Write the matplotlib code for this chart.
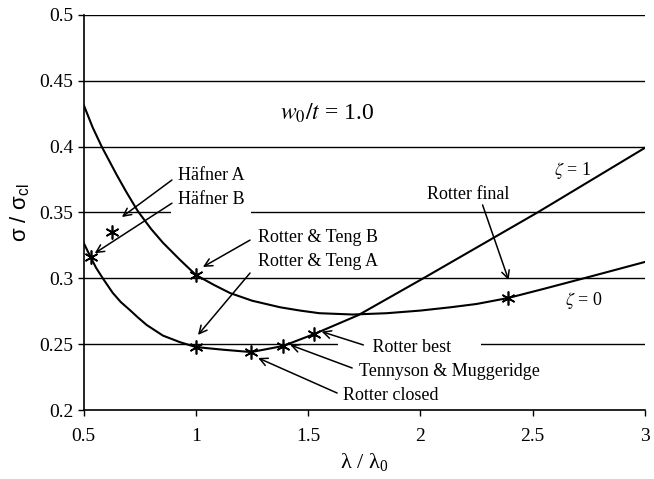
import matplotlib
matplotlib.use("Agg")
import matplotlib.pyplot as plt

plt.rcParams['font.family'] = ['Liberation Serif', 'DejaVu Serif']
plt.rcParams['mathtext.fontset'] = 'stix'

# curve zeta = 0 (upper)
lam_z0 = [0.5, 0.54, 0.58, 0.647, 0.69, 0.741, 0.80, 0.853, 0.929, 1.0, 1.08, 1.152, 1.25, 1.375,
          1.464, 1.55, 1.70, 1.85, 2.0, 2.134, 2.25, 2.39, 2.55, 2.728, 2.86, 3.0]
sig_z0 = [0.4316, 0.4145, 0.400, 0.3785, 0.3655, 0.351, 0.3375, 0.327, 0.314, 0.3025, 0.295, 0.2888, 0.283, 0.278,
          0.2755, 0.2735, 0.2725, 0.2735, 0.2755, 0.278, 0.2805, 0.285, 0.292, 0.300, 0.306, 0.3124]

# curve zeta = 1 (lower)
lam_z1 = [0.5, 0.531, 0.555, 0.585, 0.629, 0.665, 0.705, 0.74, 0.781, 0.853, 0.929, 1.0, 1.12, 1.246,
          1.388, 1.527, 1.723, 2.013, 2.522, 3.0]
sig_z1 = [0.3268, 0.316, 0.308, 0.300, 0.289, 0.282, 0.276, 0.2705, 0.2645, 0.2565, 0.2515, 0.2478, 0.2458, 0.244,
          0.2486, 0.2577, 0.272, 0.300, 0.350, 0.399]

# published results
pt_names = ['Häfner A', 'Häfner B', 'Rotter & Teng B', 'Rotter & Teng A',
            'Rotter closed', 'Tennyson & Muggeridge', 'Rotter best', 'Rotter final']
pt_lam = [0.625, 0.531, 1.0, 1.0, 1.246, 1.388, 1.527, 2.39]
pt_sig = [0.335, 0.316, 0.3025, 0.2478, 0.244, 0.2486, 0.2577, 0.285]

x_ticks = [0.5, 1, 1.5, 2, 2.5, 3]
y_ticks = [0.2, 0.25, 0.3, 0.35, 0.4, 0.45, 0.5]

fig = plt.figure(figsize=(6.54, 4.79), dpi=100)
ax = fig.add_axes([0.128, 0.144, 0.858, 0.825])

# gridlines
for yv in y_ticks[1:]:
    ax.axhline(yv, color='k', lw=1.0, zorder=0)

ax.plot(lam_z0, sig_z0, color='k', lw=1.5, zorder=2)
ax.plot(lam_z1, sig_z1, color='k', lw=1.5, zorder=2)
ax.plot(pt_lam, pt_sig, ls='none', marker=(6, 2, 0), ms=10, mew=1.2, color='k', zorder=3)

fs = 13
arrow_kw = dict(arrowstyle='->', color='k', lw=1.1, mutation_scale=14, shrinkA=0, shrinkB=0)


def label(txt, pos, start, tip, pad=2, ha='left'):
    ax.text(pos[0], pos[1], txt, fontsize=fs, ha=ha, va='center',
            bbox=dict(facecolor='white', edgecolor='none', pad=pad), zorder=4)
    ax.annotate('', xy=tip, xytext=start, arrowprops=arrow_kw, zorder=5)


label(pt_names[0], (0.92, 0.378), (0.893, 0.3746), (0.670, 0.3465))
label(pt_names[1], (0.92, 0.360), (0.893, 0.357), (0.549, 0.319), pad=5)
label(pt_names[2], (1.277, 0.331), (1.241, 0.329), (1.031, 0.3086))
label(pt_names[3], (1.277, 0.3125), (1.241, 0.304), (1.009, 0.257))
label(pt_names[4], (1.655, 0.2114), (1.629, 0.2129), (1.277, 0.2395))
label(pt_names[5], (1.725, 0.2289), (1.696, 0.2319), (1.420, 0.2494))
label('       ' + pt_names[6] + '      ', (1.647, 0.2478), (1.746, 0.2494), (1.56, 0.2595))
label(pt_names[7], (2.214, 0.3635), (2.277, 0.3557), (2.393, 0.2987), ha='center')

ax.text(2.68, 0.382, r'$\zeta$ = 1', fontsize=13, ha='center', va='center', zorder=4)
ax.text(2.73, 0.2835, r'$\zeta$ = 0', fontsize=13, ha='center', va='center', zorder=4)
ax.text(1.375, 0.4255, r'$w_0/t$ = 1.0', fontsize=17, ha='left', va='center', zorder=4)

ax.set_xlim(0.5, 3)
ax.set_ylim(0.2, 0.5)
ax.set_xticks(x_ticks)
ax.set_xticklabels(['%g' % v for v in x_ticks])
ax.set_yticks(y_ticks)
ax.set_yticklabels(['%g' % v for v in y_ticks])
ax.tick_params(direction='out', length=4, width=1, labelsize=14, colors='k')
ax.tick_params(axis='x', pad=9)

for s in ['top', 'right']:
    ax.spines[s].set_visible(False)
for s in ['left', 'bottom']:
    ax.spines[s].set_linewidth(1.2)

ax.set_xlabel('λ / λ$_\\mathregular{0}$', fontsize=16, labelpad=4)
ax.set_ylabel('σ / σ$_\\mathregular{cl}$', fontsize=16, labelpad=6,
              family=['Liberation Sans', 'DejaVu Sans'])

fig.savefig('out.png', dpi=100)
